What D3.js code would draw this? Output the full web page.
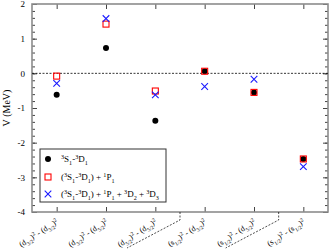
<!DOCTYPE html>
<html>
<head>
<meta charset="utf-8">
<script src="https://cdn.jsdelivr.net/npm/d3@7"></script>
<style>
  body { margin: 0; background: #fff; }
  svg { font-family: "Liberation Serif", "DejaVu Serif", serif; }
</style>
</head>
<body>
<script>
// data
var categories = [1, 2, 3, 4, 5, 6];
var catLabels = [
  [["(d"], ["3/2", "sub"], [")"], ["2", "sup"], [" - (d"], ["3/2", "sub"], [")"], ["2", "sup"]],
  [["(d"], ["3/2", "sub"], [")"], ["2", "sup"], [" - (d"], ["5/2", "sub"], [")"], ["2", "sup"]],
  [["(d"], ["5/2", "sub"], [")"], ["2", "sup"], [" - (d"], ["5/2", "sub"], [")"], ["2", "sup"]],
  [["(s"], ["1/2", "sub"], [")"], ["2", "sup"], [" - (d"], ["3/2", "sub"], [")"], ["2", "sup"]],
  [["(s"], ["1/2", "sub"], [")"], ["2", "sup"], [" - (d"], ["5/2", "sub"], [")"], ["2", "sup"]],
  [["(s"], ["1/2", "sub"], [")"], ["2", "sup"], [" - (s"], ["1/2", "sub"], [")"], ["2", "sup"]]
];
var sdOnly = [-0.62, 0.73, -1.37, 0.06, -0.55, -2.47];
var sdP = [-0.08, 1.42, -0.51, 0.06, -0.55, -2.47];
var sdPD = [-0.29, 1.58, -0.62, -0.38, -0.17, -2.69];
var separators = [3.5, 5.5];
var yTicks = [-4, -3, -2, -1, 0, 1, 2];

var legendLabels = [
  [["3", "sup"], ["S"], ["1", "sub"], ["-"], ["3", "sup"], ["D"], ["1", "sub"]],
  [["("], ["3", "sup"], ["S"], ["1", "sub"], ["-"], ["3", "sup"], ["D"], ["1", "sub"], [") + "], ["1", "sup"], ["P"], ["1", "sub"]],
  [["("], ["3", "sup"], ["S"], ["1", "sub"], ["-"], ["3", "sup"], ["D"], ["1", "sub"], [") + "], ["1", "sup"], ["P"], ["1", "sub"],
   [" + "], ["3", "sup"], ["D"], ["2", "sub"], [" + "], ["3", "sup"], ["D"], ["3", "sub"]]
];

var svgWidth = 330, svgHeight = 249;
var margin = { top: 4, right: 2, bottom: 37, left: 32 };
var width = svgWidth - margin.left - margin.right;
var height = svgHeight - margin.top - margin.bottom;

var svg = d3.select("body").append("svg")
  .attr("width", svgWidth)
  .attr("height", svgHeight);

var g = svg.append("g")
  .attr("transform", `translate(${margin.left},${margin.top})`);

var x = d3.scaleLinear().domain([0.5, 6.5]).range([0, width]);
var y = d3.scaleLinear().domain([-4, 2]).range([height, 0]);

var axisColor = "#8c8c8c";

// rich text helper: segments with sub / sup
function richText(sel, segs, fs) {
  var level = 0;
  segs.forEach(function (s) {
    var want = s[1] === "sub" ? 1 : s[1] === "sup" ? -1 : 0;
    var dy = (want - level) * fs * 0.35;
    sel.append("tspan")
      .attr("dy", dy)
      .attr("font-size", want === 0 ? fs : fs * 0.68)
      .text(s[0]);
    level = want;
  });
}

// minor ticks every 0.2
var minor = d3.range(-4, 2.001, 0.2);

function styleAxis(a) {
  a.select(".domain").remove();
  a.selectAll(".tick line").attr("stroke", "#444").attr("stroke-width", 1);
  a.selectAll("text").attr("font-size", 9).attr("fill", "#000")
    .attr("font-family", "Liberation Serif");
}

// left axis
g.append("g").call(d3.axisLeft(y).tickValues(minor).tickSize(-3).tickFormat(""))
  .call(styleAxis);
g.append("g").call(d3.axisLeft(y).tickValues(yTicks).tickSize(-5).tickPadding(7)
    .tickFormat(function (d) { return String(d); }))
  .call(styleAxis);
// right axis
g.append("g").attr("transform", `translate(${width},0)`)
  .call(d3.axisRight(y).tickValues(minor).tickSize(-3).tickFormat(""))
  .call(styleAxis);
g.append("g").attr("transform", `translate(${width},0)`)
  .call(d3.axisRight(y).tickValues(yTicks).tickSize(-5).tickFormat(""))
  .call(styleAxis);
// top and bottom
g.append("g").call(d3.axisTop(x).tickValues(categories).tickSize(-5).tickFormat(""))
  .call(styleAxis);
g.append("g").attr("transform", `translate(0,${height})`)
  .call(d3.axisBottom(x).tickValues(categories).tickSize(-5).tickFormat(""))
  .call(styleAxis);

// frame
g.append("rect")
  .attr("width", width).attr("height", height)
  .attr("fill", "none").attr("stroke", axisColor).attr("stroke-width", 1.6);

// zero line
g.append("line")
  .attr("x1", 0).attr("x2", width)
  .attr("y1", y(0)).attr("y2", y(0))
  .attr("stroke", "#000").attr("stroke-width", 0.8)
  .attr("stroke-dasharray", "2,1.5");

// y label
g.append("text")
  .attr("transform", `translate(-22,${height / 2})rotate(-90)`)
  .attr("text-anchor", "middle")
  .attr("font-size", 10)
  .text("V (MeV)");

// category labels
catLabels.forEach(function (segs, i) {
  var t = g.append("text")
    .attr("transform", `translate(${x(categories[i]) + 2},${height + 11})rotate(-33)`)
    .attr("text-anchor", "end")
    .attr("font-size", 8);
  richText(t, segs, 8);
});

// dashed separators under the axis
separators.forEach(function (s) {
  var x0 = x(s);
  var pts = [[x0, height], [x0, height + 8], [x0 - 53, height + 36]];
  g.append("path")
    .attr("d", d3.line()(pts))
    .attr("fill", "none")
    .attr("stroke", "#000").attr("stroke-width", 0.7)
    .attr("stroke-dasharray", "2,1.5");
});

// markers
g.selectAll(".dot").data(sdOnly).enter().append("circle")
  .attr("class", "dot")
  .attr("cx", function (d, i) { return x(categories[i]); })
  .attr("cy", function (d) { return y(d); })
  .attr("r", 3)
  .attr("fill", "#000");

g.selectAll(".sq").data(sdP).enter().append("rect")
  .attr("class", "sq")
  .attr("x", function (d, i) { return x(categories[i]) - 3; })
  .attr("y", function (d) { return y(d) - 3; })
  .attr("width", 6).attr("height", 6)
  .attr("fill", "none").attr("stroke", "#f00").attr("stroke-width", 1.1);

function cross(sel, cx, cy, r) {
  sel.append("path")
    .attr("d", `M${cx - r},${cy - r}L${cx + r},${cy + r}M${cx - r},${cy + r}L${cx + r},${cy - r}`)
    .attr("stroke", "#1a1aff").attr("stroke-width", 1.1).attr("fill", "none");
}
sdPD.forEach(function (d, i) { cross(g, x(categories[i]), y(d), 3.3); });

// legend
var lg = svg.append("g").attr("transform", "translate(40,149)");
lg.append("rect").attr("width", 126).attr("height", 53)
  .attr("fill", "#fff").attr("stroke", "#333").attr("stroke-width", 1);
var rowY = [10, 28, 45];
lg.append("circle").attr("cx", 8).attr("cy", rowY[0]).attr("r", 3).attr("fill", "#000");
lg.append("rect").attr("x", 5).attr("y", rowY[1] - 3).attr("width", 6).attr("height", 6)
  .attr("fill", "none").attr("stroke", "#f00").attr("stroke-width", 1.1);
cross(lg, 8, rowY[2], 3.3);
legendLabels.forEach(function (segs, i) {
  var t = lg.append("text").attr("x", 21).attr("y", rowY[i] + 3).attr("font-size", 9);
  richText(t, segs, 9);
});
</script>
</body>
</html>
